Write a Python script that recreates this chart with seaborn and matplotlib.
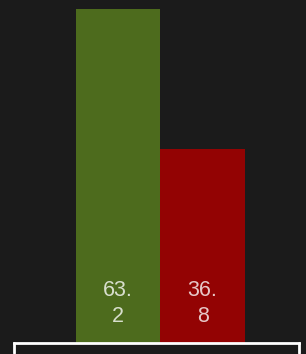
import matplotlib
matplotlib.use("Agg")
import matplotlib.pyplot as plt
import seaborn as sns
import pandas as pd

# données
categories = ["A", "B"]
valeurs = [63.2, 36.8]
etiquettes = ["63.\n2", "36.\n8"]
couleurs = ["#4d6b1d", "#930303"]

df = pd.DataFrame({"cat": categories, "val": valeurs})

sns.set_style("dark")
plt.rcParams["font.family"] = ["Liberation Sans", "DejaVu Sans"]

fig = plt.figure(figsize=(3.06, 3.54), dpi=100, facecolor="#1b1b1b")
ax = fig.add_axes([14 / 306, 11 / 354, 285 / 306, 334 / 354])
ax.set_facecolor("#1b1b1b")

sns.barplot(data=df, x="cat", y="val", hue="cat", palette=couleurs,
            width=1.0, legend=False, ax=ax, saturation=1, linewidth=0)

# étiquettes en bas des barres
for i, txt in enumerate(etiquettes):
    ax.text(i, 3.0, txt, ha="center", va="bottom", color="white", alpha=0.78,
            fontsize=15.5, linespacing=1.3)

ax.set_xlim(-1.23, 2.14)
ax.set_ylim(0, 63.2)
ax.set_xticks([])
ax.set_yticks([])
ax.set_xlabel("")
ax.set_ylabel("")
ax.grid(False)
for s in ["top", "left", "right"]:
    ax.spines[s].set_visible(False)
ax.spines["bottom"].set_color("white")
ax.spines["bottom"].set_linewidth(2)

# petits crochets aux extrémités
ax.plot([-1.23, -1.23], [0, -1.8], color="white", lw=2, clip_on=False)
ax.plot([2.14, 2.14], [0, -1.8], color="white", lw=2, clip_on=False)

fig.savefig("out.png", dpi=100, facecolor=fig.get_facecolor())
